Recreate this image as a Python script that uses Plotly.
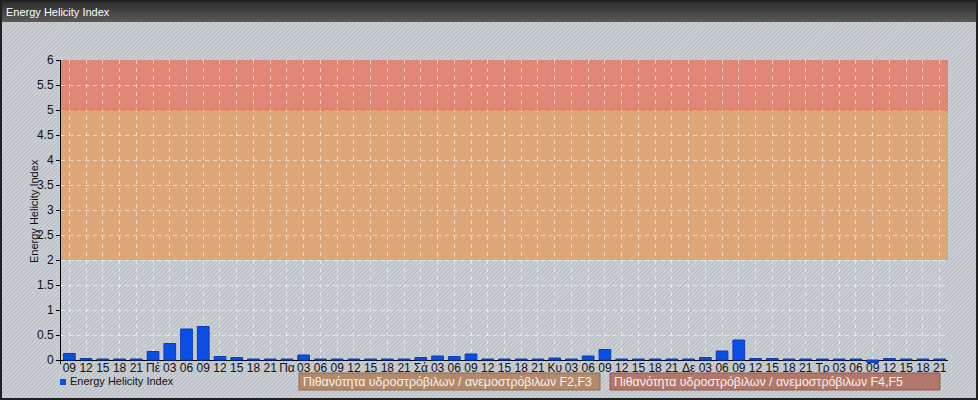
import plotly.graph_objects as go
import urllib.parse

# ---- data ----
tick_labels = ["09", "12", "15", "18", "21",
               "Πέ", "03", "06", "09", "12", "15", "18", "21",
               "Πα", "03", "06", "09", "12", "15", "18", "21",
               "Σά", "03", "06", "09", "12", "15", "18", "21",
               "Κυ", "03", "06", "09", "12", "15", "18", "21",
               "Δε", "03", "06", "09", "12", "15", "18", "21",
               "Τρ", "03", "06", "09", "12", "15", "18", "21"]
ehi_values = [0.13, 0.03, 0.02, 0.02, 0.02,
              0.17, 0.33, 0.62, 0.67, 0.07, 0.05, 0.02, 0.02,
              0.02, 0.10, 0.02, 0.02, 0.02, 0.02, 0.02, 0.02,
              0.05, 0.08, 0.07, 0.12, 0.02, 0.02, 0.02, 0.02,
              0.04, 0.02, 0.08, 0.21, 0.02, 0.02, 0.02, 0.02,
              0.02, 0.05, 0.18, 0.40, 0.03, 0.03, 0.02, 0.02,
              0.02, 0.02, 0.02, -0.05, 0.03, 0.02, 0.02, 0.02]
y_ticks = [0, 0.5, 1, 1.5, 2, 2.5, 3, 3.5, 4, 4.5, 5, 5.5, 6]
y_tick_text = ["0", "0.5", "1", "1.5", "2", "2.5", "3", "3.5", "4", "4.5", "5", "5.5", "6"]
band_f23 = (2, 5)
band_f45 = (5, 6)
series_name = "Energy Helicity Index"
band_labels = ["Πιθανότητα υδροστρόβιλων / ανεμοστρόβιλων F2,F3",
               "Πιθανότητα υδροστρόβιλων / ανεμοστρόβιλων F4,F5"]

x_idx = list(range(len(tick_labels)))

W, H = 978, 400
ML, MR, MT, MB = 61, 30, 60, 36
PW, PH = W - ML - MR, H - MT - MB

# background: hatched panel, dark title bar, frame
svg = f"""<svg xmlns='http://www.w3.org/2000/svg' width='{W}' height='{H}'>
<defs>
<pattern id='p' width='3' height='3' patternUnits='userSpaceOnUse' patternTransform='rotate(45)'>
<rect width='3' height='3' fill='#ccd0d5'/><rect width='1' height='3' fill='#b5bbc2'/></pattern>
<linearGradient id='g' x1='0' y1='0' x2='0' y2='1'>
<stop offset='0' stop-color='#2a2a2a'/><stop offset='1' stop-color='#5a5a5a'/></linearGradient>
</defs>
<rect width='{W}' height='{H}' fill='url(#p)'/>
<rect width='{W}' height='22' fill='url(#g)'/>
<rect x='1' y='1' width='{W-2}' height='{H-2}' fill='none' stroke='#202020' stroke-width='2'/>
</svg>"""
src = "data:image/svg+xml;charset=utf-8," + urllib.parse.quote(svg)

def px_x(px):
    return (px - ML) / PW

def px_y(py):
    return 1 - (py - MT) / PH

fig = go.Figure()
fig.add_trace(go.Bar(
    x=x_idx, y=ehi_values, name=series_name,
    marker=dict(color="#0a4fe3", line=dict(color="#0a3cb8", width=1)),
    width=0.7, showlegend=False,
))

shapes = [
    dict(type="rect", xref="x", yref="y", x0=-0.5, x1=len(x_idx) - 0.5,
         y0=band_f45[0], y1=band_f45[1], fillcolor="rgba(226,126,106,0.9)",
         line=dict(width=0), layer="below"),
    dict(type="rect", xref="x", yref="y", x0=-0.5, x1=len(x_idx) - 0.5,
         y0=band_f23[0], y1=band_f23[1], fillcolor="rgba(224,162,110,0.9)",
         line=dict(width=0), layer="below"),
    dict(type="line", xref="x", yref="y", x0=-0.5, x1=len(x_idx) - 0.5,
         y0=band_f45[0], y1=band_f45[0], line=dict(color="#e8703e", width=1)),
    # legend marker
    dict(type="rect", xref="paper", yref="paper", x0=px_x(60), x1=px_x(66),
         y0=px_y(385), y1=px_y(379), fillcolor="#0a4fe3", line=dict(width=0)),
    # band legend boxes
    dict(type="rect", xref="paper", yref="paper", x0=px_x(299), x1=px_x(600),
         y0=px_y(390), y1=px_y(373), fillcolor="#b2896a",
         line=dict(color="#8c6a52", width=1)),
    dict(type="rect", xref="paper", yref="paper", x0=px_x(610), x1=px_x(940),
         y0=px_y(390), y1=px_y(373), fillcolor="#b2776b",
         line=dict(color="#8c5a50", width=1)),
]

font = "Liberation Sans, Arial, sans-serif"
annotations = [
    dict(text="Energy Helicity Index", xref="paper", yref="paper",
         x=px_x(4), y=px_y(12), xanchor="left", yanchor="middle",
         showarrow=False, font=dict(family=font, size=11, color="#ffffff")),
    dict(text="Energy Helicity Index", xref="paper", yref="paper",
         x=px_x(34), y=px_y(211), xanchor="center", yanchor="middle",
         textangle=-90, showarrow=False,
         font=dict(family=font, size=11, color="#111111")),
    dict(text=series_name, xref="paper", yref="paper",
         x=px_x(68), y=px_y(381), xanchor="left", yanchor="middle",
         showarrow=False, font=dict(family=font, size=11, color="#111111")),
    dict(text=band_labels[0], xref="paper", yref="paper",
         x=px_x(301), y=px_y(381.5), xanchor="left", yanchor="middle",
         showarrow=False, font=dict(family=font, size=12.4, color="#f6f2ee")),
    dict(text=band_labels[1], xref="paper", yref="paper",
         x=px_x(612), y=px_y(381.5), xanchor="left", yanchor="middle",
         showarrow=False, font=dict(family=font, size=12.4, color="#f6f2ee")),
]

fig.update_layout(
    width=W, height=H,
    margin=dict(l=ML, r=MR, t=MT, b=MB, pad=0),
    paper_bgcolor="rgba(0,0,0,0)", plot_bgcolor="rgba(0,0,0,0)",
    images=[dict(source=src, xref="paper", yref="paper",
                 x=px_x(0), y=px_y(0), sizex=W / PW, sizey=H / PH,
                 xanchor="left", yanchor="top", sizing="stretch", layer="below")],
    shapes=shapes, annotations=annotations,
    showlegend=False, bargap=0.3,
    font=dict(family=font, size=12, color="#111111"),
)
fig.update_xaxes(
    range=[-0.5, len(x_idx) - 0.5], tickmode="array", tickvals=x_idx,
    ticktext=tick_labels, showgrid=True, gridcolor="rgba(255,255,255,0.55)",
    griddash="4px,4px", gridwidth=1, showline=False, ticks="",
    ticklabelstandoff=-5, zeroline=False, tickangle=0,
    tickfont=dict(family=font, size=12, color="#111111"), fixedrange=True,
)
fig.update_yaxes(
    range=[-0.08, 6], tickmode="array", tickvals=y_ticks, ticktext=y_tick_text,
    showgrid=True, gridcolor="rgba(255,255,255,0.55)", griddash="4px,4px",
    showline=True, linecolor="#000000", linewidth=1, ticks="outside",
    ticklen=4, tickcolor="#000000", zeroline=True, zerolinecolor="#000000",
    zerolinewidth=1, tickfont=dict(family=font, size=12, color="#111111"),
    fixedrange=True,
)

fig.write_html("out.html", config={"displayModeBar": False},
               post_script="document.body.style.margin='0';document.body.style.overflow='hidden';")
